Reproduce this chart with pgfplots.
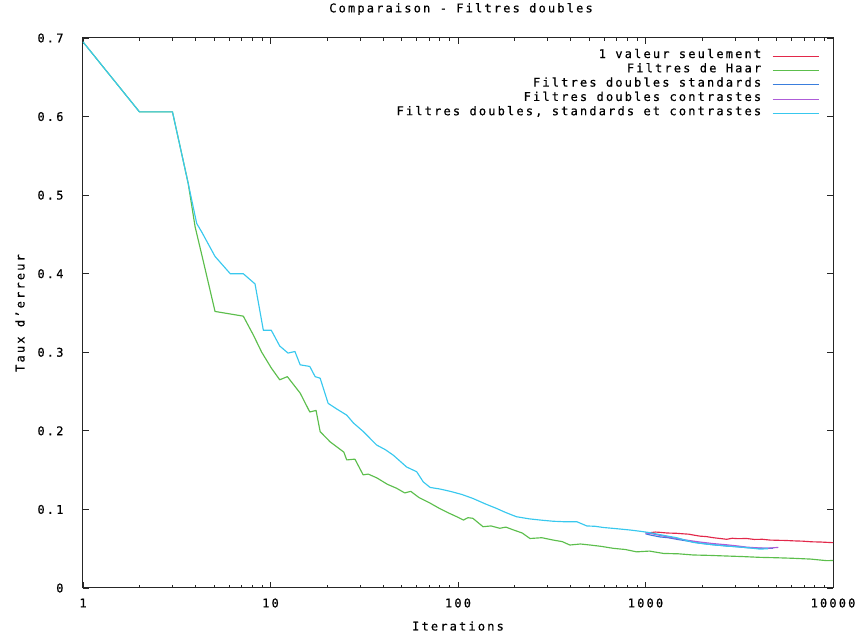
\documentclass[border=0pt]{standalone}
\usepackage{fontspec}
\setmainfont{DejaVu Sans Mono}[LetterSpace=18, FakeBold=0.6]
\usepackage{pgfplots}
\pgfplotsset{compat=1.18}
\definecolor{cred}{HTML}{E2284A}
\definecolor{cgreen}{HTML}{5CBE4C}
\definecolor{cblue}{HTML}{3A7EDD}
\definecolor{cpurple}{HTML}{AE5CD8}
\definecolor{ccyan}{HTML}{38C8EE}
\newcommand{\legtxt}[1]{#1\hspace*{9pt}}
\begin{document}
\begin{tikzpicture}
\useasboundingbox (-83pt,-51pt) rectangle (783pt,588pt);
\begin{axis}[
  at={(0,0)}, anchor=south west,
  scale only axis, width=750pt, height=550pt,
  xmode=log, xmin=1, xmax=10000, ymin=0, ymax=0.7,
  font=\fontsize{12}{14}\selectfont,
  /pgf/number format/assume math mode=true,
  axis line style={black!85, line width=1pt},
  tick align=inside, major tick length=6pt, minor tick length=3pt,
  every tick/.style={black!85, line width=0.8pt},
  xtick={1,10,100,1000,10000},
  xticklabels={1,10,100,1000,10000},
  minor xtick={2,3,4,5,6,7,8,9,20,30,40,50,60,70,80,90,200,300,400,500,600,700,800,900,2000,3000,4000,5000,6000,7000,8000,9000},
  ytick={0,0.1,0.2,0.3,0.4,0.5,0.6,0.7},
  yticklabels={0,0.1,0.2,0.3,0.4,0.5,0.6,0.7},
  xticklabel style={anchor=center, yshift=-15pt},
  yticklabel style={anchor=east, xshift=-16pt},
  title={Comparaison - Filtres doubles},
  title style={at={(rel axis cs:0.5,1)}, anchor=center, yshift=23pt, xshift=3pt},
  xlabel={Iterations},
  xlabel style={at={(rel axis cs:0.5,0)}, anchor=center, yshift=-38pt},
  ylabel={Taux d'erreur},
  ylabel style={at={(rel axis cs:0,0.5)}, anchor=center, yshift=63pt},
  legend cell align=right,
  legend plot pos=right,
  legend style={at={(rel axis cs:0.986,0.984)}, anchor=north east, draw=none, fill=none,
    row sep=0pt, nodes={inner ysep=0pt, text height=9pt, text depth=5.3pt}},
  legend image code/.code={\draw[#1, line width=1.1pt] (0pt,0pt) -- (46pt,0pt);},
  every axis plot/.append style={line width=1.15pt, line join=round},
]
\addplot[cred] coordinates {
(1000,0.0705) (1057,0.0704) (1130,0.0712) (1200,0.0708) (1300,0.0700) (1466,0.0696) (1580,0.0690) (1700,0.0685) (1820,0.0672) (1950,0.0660) (2100,0.0655) (2300,0.0640) (2500,0.0630) (2710,0.0620) (2900,0.0633) (3100,0.0628) (3465,0.0630) (3800,0.0618) (4200,0.0620) (4610,0.0610) (5100,0.0607) (5600,0.0605) (6150,0.0600) (6900,0.0596) (7700,0.0588) (8600,0.0585) (10000,0.0577)
};
\addlegendentry{\legtxt{1 valeur seulement}}
\addplot[cgreen] coordinates {
(1,0.695) (2,0.606) (3,0.606) (3.64,0.515) (3.96,0.460) (4.38,0.416) (5.06,0.352) (7.16,0.346) (8.1,0.322) (8.98,0.300) (10.1,0.280) (11.2,0.265) (12.3,0.269) (14.4,0.248) (16.2,0.224) (17.5,0.226) (18.4,0.199) (20.8,0.186) (24.6,0.173) (25.5,0.163) (28.2,0.164) (31.2,0.144) (33.2,0.145) (37,0.140) (42,0.132) (47,0.127) (52,0.121) (56,0.123) (62,0.115) (71,0.108) (80,0.101) (90,0.095) (100,0.090) (107,0.0865) (113,0.0895) (120,0.0887) (136,0.0780) (150,0.0790) (167,0.0760) (180,0.0775) (197,0.0740) (220,0.0700) (242,0.0630) (280,0.0640) (322,0.0610) (360,0.0590) (395,0.0547) (450,0.0560) (506,0.0547) (580,0.0530) (673,0.0505) (780,0.0490) (897,0.0460) (1050,0.0470) (1245,0.0440) (1500,0.0435) (1800,0.0420) (2200,0.0415) (2710,0.0407) (3300,0.0400) (4080,0.0390) (5000,0.0385) (6150,0.0378) (7600,0.0368) (9250,0.0348) (10000,0.0350)
};
\addlegendentry{\legtxt{Filtres de Haar}}
\addplot[cblue] coordinates {
(1000,0.0690) (1057,0.0675) (1195,0.0650) (1320,0.0640) (1466,0.0620) (1700,0.0595) (1950,0.0570) (2300,0.0550) (2710,0.0535) (3100,0.0525) (3465,0.0513) (4080,0.0505) (4790,0.0505)
};
\addlegendentry{\legtxt{Filtres doubles standards}}
\addplot[cpurple] coordinates {
(1000,0.0700) (1057,0.0695) (1250,0.0660) (1466,0.0630) (1700,0.0605) (1950,0.0585) (2300,0.0565) (2710,0.0550) (3100,0.0535) (3465,0.0520) (3900,0.0512) (4430,0.0505) (5110,0.0517)
};
\addlegendentry{\legtxt{Filtres doubles contrastes}}
\addplot[ccyan] coordinates {
(1,0.695) (2,0.606) (3,0.606) (3.64,0.515) (4.04,0.464) (4.3,0.453) (5.06,0.422) (6.1,0.400) (7.16,0.400) (8.27,0.387) (9.16,0.328) (10.1,0.328) (11.2,0.308) (12.4,0.299) (13.5,0.301) (14.4,0.284) (16.2,0.282) (17.3,0.269) (18.4,0.267) (20.3,0.235) (22.5,0.228) (25.5,0.220) (27.7,0.210) (31.3,0.199) (36.8,0.182) (41,0.176) (45.2,0.169) (53.2,0.154) (60.2,0.148) (65.3,0.135) (71,0.128) (80,0.126) (91,0.123) (105,0.119) (120,0.114) (140,0.107) (160,0.1014) (180,0.0960) (205,0.0907) (240,0.0880) (274,0.0865) (320,0.0850) (364,0.0844) (430,0.0844) (486,0.0790) (540,0.0785) (596,0.0770) (700,0.0755) (827,0.0738) (950,0.0720) (1057,0.0704) (1250,0.0670) (1466,0.0640) (1800,0.0580) (2200,0.0555) (2710,0.0534) (3465,0.0515) (4080,0.0495) (4500,0.0500)
};
\addlegendentry{\legtxt{Filtres doubles, standards et contrastes}}
\end{axis}
\end{tikzpicture}
\end{document}
